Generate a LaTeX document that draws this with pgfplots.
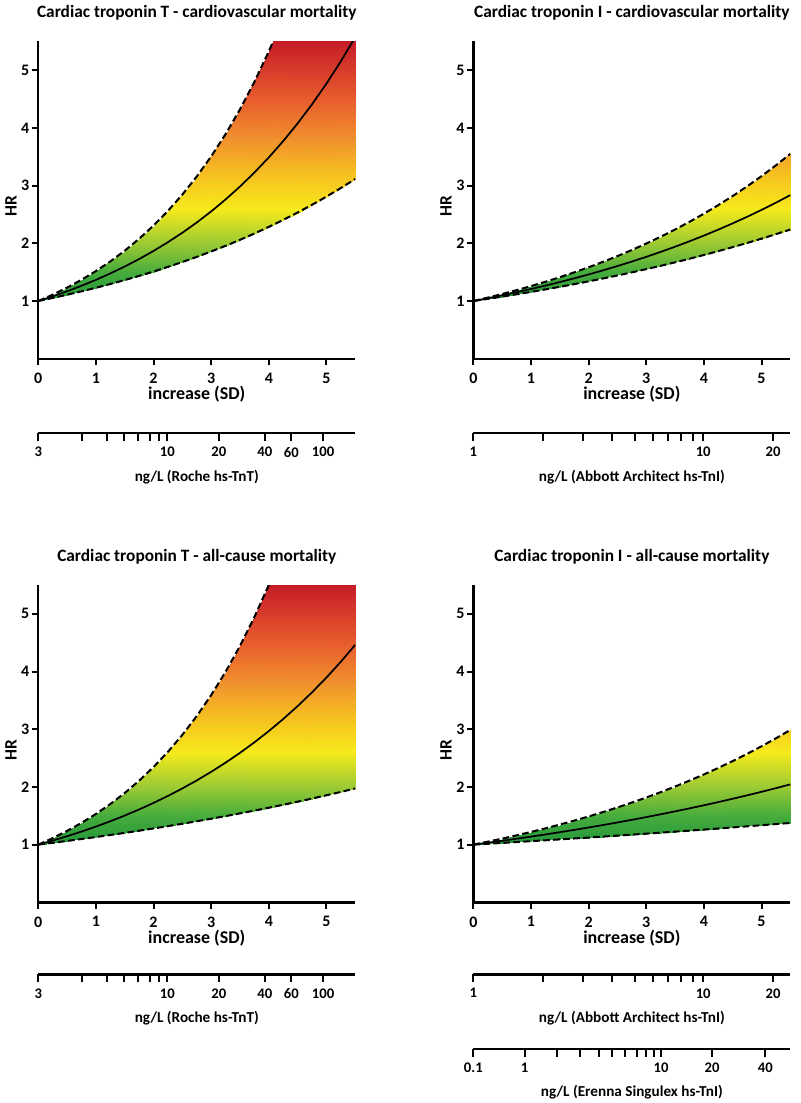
\documentclass[border=0pt]{standalone}
\usepackage{pgfplots}
\pgfplotsset{compat=1.18}
\usepackage{pgfplotstable}
\usepackage{fontspec}
\setmainfont{Carlito}

% ---------- TnT cardiovascular ----------
\pgfplotstableread{
x lo mid up
0 1 1 1
0.25 1.0530 1.0812 1.1102
0.5 1.1088 1.1691 1.2326
0.75 1.1676 1.2640 1.3684
1 1.2295 1.3667 1.5192
1.25 1.2947 1.4777 1.6867
1.5 1.3633 1.5977 1.8725
1.75 1.4356 1.7275 2.0789
2 1.5117 1.8679 2.3080
2.25 1.5918 2.0196 2.5624
2.5 1.6762 2.1836 2.8448
2.75 1.7650 2.3610 3.1583
3 1.8586 2.5528 3.5064
3.25 1.9571 2.7602 3.8929
3.5 2.0608 2.9844 4.3219
3.75 2.1701 3.2268 4.7982
4 2.2851 3.4889 5.3270
4.25 2.4062 3.7723 5.9141
4.5 2.5338 4.0787 6.566
4.75 2.6681 4.4100 7.29
5 2.8095 4.7682 8.09
5.25 2.9584 5.1556 8.98
5.5 3.1152 5.5743 9.97
}\TLdata
\pgfplotstableread{
x y
0 1
0.25 1.0530
0.5 1.1088
0.75 1.1676
1 1.2295
1.25 1.2947
1.5 1.3633
1.75 1.4356
2 1.5117
2.25 1.5918
2.5 1.6762
2.75 1.7650
3 1.8586
3.25 1.9571
3.5 2.0608
3.75 2.1701
4 2.2851
4.076 2.3212
4.25 2.4062
4.5 2.5338
4.75 2.6681
5 2.8095
5.25 2.9584
5.5 3.1152
0 1
0.25 1.1102
0.5 1.2326
0.75 1.3684
1 1.5192
1.25 1.6867
1.5 1.8725
1.75 2.0789
2 2.3080
2.25 2.5624
2.5 2.8448
2.75 3.1583
3 3.5064
3.25 3.8929
3.5 4.3219
3.75 4.7982
4 5.3270
4.076 5.5
4.25 5.5
4.5 5.5
4.75 5.5
5 5.5
5.25 5.5
5.5 5.5
}\TLband

% ---------- TnI cardiovascular ----------
\pgfplotstableread{
x lo mid up
0 1 1 1
0.25 1.0373 1.0485 1.0593
0.5 1.0761 1.0994 1.1221
0.75 1.1162 1.1527 1.1886
1 1.1579 1.2086 1.2591
1.25 1.2011 1.2673 1.3338
1.5 1.2460 1.3288 1.4128
1.75 1.2925 1.3932 1.4966
2 1.3407 1.4608 1.5853
2.25 1.3908 1.5317 1.6793
2.5 1.4427 1.6060 1.7789
2.75 1.4965 1.6839 1.8844
3 1.5524 1.7656 1.9961
3.25 1.6104 1.8513 2.1145
3.5 1.6705 1.9411 2.2398
3.75 1.7328 2.0353 2.3726
4 1.7975 2.1340 2.5133
4.25 1.8646 2.2375 2.6623
4.5 1.9342 2.3461 2.8202
4.75 2.0064 2.4599 2.9874
5 2.0813 2.5792 3.1645
5.25 2.1590 2.7044 3.3521
5.5 2.2396 2.8356 3.5509
}\TRdata
\pgfplotstableread{
x y
0 1
0.25 1.0373
0.5 1.0761
0.75 1.1162
1 1.1579
1.25 1.2011
1.5 1.2460
1.75 1.2925
2 1.3407
2.25 1.3908
2.5 1.4427
2.75 1.4965
3 1.5524
3.25 1.6104
3.5 1.6705
3.75 1.7328
4 1.7975
4.25 1.8646
4.5 1.9342
4.75 2.0064
5 2.0813
5.25 2.1590
5.5 2.2396
0 1
0.25 1.0593
0.5 1.1221
0.75 1.1886
1 1.2591
1.25 1.3338
1.5 1.4128
1.75 1.4966
2 1.5853
2.25 1.6793
2.5 1.7789
2.75 1.8844
3 1.9961
3.25 2.1145
3.5 2.2398
3.75 2.3726
4 2.5133
4.25 2.6623
4.5 2.8202
4.75 2.9874
5 3.1645
5.25 3.3521
5.5 3.5509
}\TRband

% ---------- TnT all-cause ----------
\pgfplotstableread{
x lo mid up
0 1 1 1
0.25 1.0314 1.0704 1.1124
0.5 1.0637 1.1457 1.2375
0.75 1.0971 1.2263 1.3766
1 1.1316 1.3126 1.5314
1.25 1.1671 1.4049 1.7036
1.5 1.2037 1.5038 1.8951
1.75 1.2415 1.6096 2.1082
2 1.2804 1.7229 2.3452
2.25 1.3206 1.8441 2.6089
2.5 1.3621 1.9739 2.9022
2.75 1.4048 2.1128 3.2285
3 1.4489 2.2614 3.5915
3.25 1.4944 2.4206 3.9953
3.5 1.5413 2.5909 4.4445
3.75 1.5896 2.7732 4.9442
4 1.6395 2.9683 5.5001
4.25 1.6910 3.1772 6.118
4.5 1.7440 3.4008 6.807
4.75 1.7988 3.6400 7.57
5 1.8552 3.8962 8.42
5.25 1.9134 4.1703 9.37
5.5 1.9735 4.4638 10.42
}\BLdata
\pgfplotstableread{
x y
0 1
0.25 1.0314
0.5 1.0637
0.75 1.0971
1 1.1316
1.25 1.1671
1.5 1.2037
1.75 1.2415
2 1.2804
2.25 1.3206
2.5 1.3621
2.75 1.4048
3 1.4489
3.25 1.4944
3.5 1.5413
3.75 1.5896
4 1.6395
4.25 1.6910
4.5 1.7440
4.75 1.7988
5 1.8552
5.25 1.9134
5.5 1.9735
0 1
0.25 1.1124
0.5 1.2375
0.75 1.3766
1 1.5314
1.25 1.7036
1.5 1.8951
1.75 2.1082
2 2.3452
2.25 2.6089
2.5 2.9022
2.75 3.2285
3 3.5915
3.25 3.9953
3.5 4.4445
3.75 4.9442
4 5.5
4.25 5.5
4.5 5.5
4.75 5.5
5 5.5
5.25 5.5
5.5 5.5
}\BLband

% ---------- TnI all-cause ----------
\pgfplotstableread{
x lo mid up
0 1 1 1
0.25 1.0146 1.0330 1.0510
0.5 1.0294 1.0672 1.1046
0.75 1.0445 1.1024 1.1610
1 1.0597 1.1388 1.2202
1.25 1.0752 1.1764 1.2824
1.5 1.0909 1.2153 1.3478
1.75 1.1068 1.2555 1.4166
2 1.1230 1.2969 1.4888
2.25 1.1394 1.3398 1.5648
2.5 1.1560 1.3840 1.6446
2.75 1.1729 1.4298 1.7285
3 1.1901 1.4770 1.8167
3.25 1.2074 1.5258 1.9093
3.5 1.2251 1.5762 2.0067
3.75 1.2430 1.6282 2.1091
4 1.2611 1.6820 2.2166
4.25 1.2795 1.7376 2.3297
4.5 1.2982 1.7950 2.4485
4.75 1.3172 1.8543 2.5734
5 1.3364 1.9155 2.7047
5.25 1.3560 1.9788 2.8427
5.5 1.3758 2.0442 2.9877
}\BRdata
\pgfplotstableread{
x y
0 1
0.25 1.0146
0.5 1.0294
0.75 1.0445
1 1.0597
1.25 1.0752
1.5 1.0909
1.75 1.1068
2 1.1230
2.25 1.1394
2.5 1.1560
2.75 1.1729
3 1.1901
3.25 1.2074
3.5 1.2251
3.75 1.2430
4 1.2611
4.25 1.2795
4.5 1.2982
4.75 1.3172
5 1.3364
5.25 1.3560
5.5 1.3758
0 1
0.25 1.0510
0.5 1.1046
0.75 1.1610
1 1.2202
1.25 1.2824
1.5 1.3478
1.75 1.4166
2 1.4888
2.25 1.5648
2.5 1.6446
2.75 1.7285
3 1.8167
3.25 1.9093
3.5 2.0067
3.75 2.1091
4 2.2166
4.25 2.3297
4.5 2.4485
4.75 2.5734
5 2.7047
5.25 2.8427
5.5 2.9877
}\BRband

\pgfplotsset{
  colormap={hrmap}{rgb255(0cm)=(35,150,60) rgb255(0.5cm)=(70,172,60) rgb255(1cm)=(155,202,52) rgb255(1.6cm)=(246,234,28) rgb255(2.2cm)=(246,192,32) rgb255(2.8cm)=(240,145,45) rgb255(3.5cm)=(232,92,45) rgb255(4.5cm)=(198,28,40)},
  mainax/.style={
    anchor=south west, scale only axis, width=237.75pt, height=238pt,
    xmin=0, xmax=5.5, ymin=0, ymax=5.5,
    axis x line*=bottom, axis y line*=left,
    axis line style={line width=1.8pt, black},
    every tick/.style={line width=1.5pt, black},
    xtick={0,1,2,3,4,5}, ytick={1,2,3,4,5},
    tick align=outside, major tick length=5pt,
    /pgf/number format/assume math mode=true,
    tick label style={font=\fontsize{12}{12}\selectfont\bfseries},
    xticklabel style={inner sep=0pt, yshift=-5.5pt},
    yticklabel style={inner sep=1.5pt},
    xlabel={increase (SD)}, ylabel={HR},
    xlabel style={at={(axis description cs:0.5,0)}, anchor=center, yshift=-26.8pt, font=\fontsize{13.5}{13.5}\selectfont\bfseries},
    ylabel style={at={(axis description cs:-0.086,0.48)}, anchor=center, font=\fontsize{13}{13}\selectfont\bfseries},
    title style={at={(axis description cs:0.5,1)}, anchor=center, yshift=15.4pt, font=\fontsize{13}{13}\selectfont\bfseries},
    colormap name=hrmap, point meta min=1, point meta max=5.5,
    axis on top,
  },
  secax/.style={
    anchor=south west, scale only axis, width=237.75pt, height=10pt,
    xmin=0, xmax=5.5, ymin=0, ymax=1,
    axis x line*=bottom, axis y line=none,
    axis line style={line width=1.8pt, black},
    every tick/.style={line width=1.5pt, black},
    tick align=outside, major tick length=6pt,
    tick label style={font=\fontsize{11}{11}\selectfont\bfseries},
    xticklabel style={inner sep=1pt, yshift=-3.3pt},
    xlabel style={at={(axis description cs:0.5,0)}, anchor=center, yshift=-32.6pt, font=\fontsize{11.4}{11.4}\selectfont\bfseries},
  },
  bandstyle/.style={surf, shader=interp, mesh/rows=2, point meta=y},
  cistyle/.style={black, line width=1.5pt, dash pattern=on 5pt off 2.5pt},
  midstyle/.style={black, line width=1.3pt},
}

\begin{document}
\begin{tikzpicture}
\useasboundingbox (0,0) rectangle (600pt,827.25pt);

% Top left
\begin{axis}[mainax, at={(28.7pt,558.2pt)}, title={Cardiac troponin T - cardiovascular mortality}]
\addplot[bandstyle] table[x=x,y=y] {\TLband};
\addplot[cistyle] table[x=x,y=up] {\TLdata};
\addplot[cistyle] table[x=x,y=lo] {\TLdata};
\addplot[midstyle] table[x=x,y=mid] {\TLdata};
\end{axis}
\begin{axis}[secax, at={(28.7pt,502.3pt)},
  xtick={0,0.751,1.189,1.489,1.731,1.939,2.102,2.240,3.134,3.930,4.392,4.941},
  xticklabels={3,,,,,,,10,20,40,60,100},
  xlabel={ng/L (Roche hs-TnT)}]
\end{axis}

% Top right
\begin{axis}[mainax, at={(355pt,558.2pt)}, title={Cardiac troponin I - cardiovascular mortality}]
\addplot[bandstyle] table[x=x,y=y] {\TRband};
\addplot[cistyle] table[x=x,y=up] {\TRdata};
\addplot[cistyle] table[x=x,y=lo] {\TRdata};
\addplot[midstyle] table[x=x,y=mid] {\TRdata};
\end{axis}
\begin{axis}[secax, at={(355pt,502.3pt)},
  xtick={0,1.207,1.905,2.405,2.80,3.11,3.375,3.605,3.81,3.988,5.20},
  xticklabels={1,,,,,,,,,10,20},
  xlabel={ng/L (Abbott Architect hs-TnI)}]
\end{axis}

% Bottom left
\begin{axis}[mainax, at={(28.7pt,150.5pt)}, title={Cardiac troponin T - all-cause mortality}]
\addplot[bandstyle] table[x=x,y=y] {\BLband};
\addplot[cistyle] table[x=x,y=up] {\BLdata};
\addplot[cistyle] table[x=x,y=lo] {\BLdata};
\addplot[midstyle] table[x=x,y=mid] {\BLdata};
\end{axis}
\begin{axis}[secax, at={(28.7pt,96.4pt)},
  xtick={0,0.751,1.189,1.489,1.731,1.939,2.102,2.240,3.134,3.930,4.392,4.941},
  xticklabels={3,,,,,,,10,20,40,60,100},
  xlabel={ng/L (Roche hs-TnT)}]
\end{axis}

% Bottom right
\begin{axis}[mainax, at={(355pt,150.5pt)}, title={Cardiac troponin I - all-cause mortality}]
\addplot[bandstyle] table[x=x,y=y] {\BRband};
\addplot[cistyle] table[x=x,y=up] {\BRdata};
\addplot[cistyle] table[x=x,y=lo] {\BRdata};
\addplot[midstyle] table[x=x,y=mid] {\BRdata};
\end{axis}
\begin{axis}[secax, at={(355pt,96.4pt)},
  xtick={0,1.207,1.905,2.405,2.80,3.11,3.375,3.605,3.81,3.988,5.20},
  xticklabels={1,,,,,,,,,10,20},
  xlabel={ng/L (Abbott Architect hs-TnI)}]
\end{axis}
\begin{axis}[secax, at={(355pt,40.7pt)},
  xtick={0,0.889,1.444,1.847,2.172,2.414,2.640,2.831,3.004,3.143,3.258,4.142,5.066},
  xticklabels={0.1,1,,,,,,,,,10,20,40},
  xlabel={ng/L (Erenna Singulex hs-TnI)}]
\end{axis}
\end{tikzpicture}
\end{document}
